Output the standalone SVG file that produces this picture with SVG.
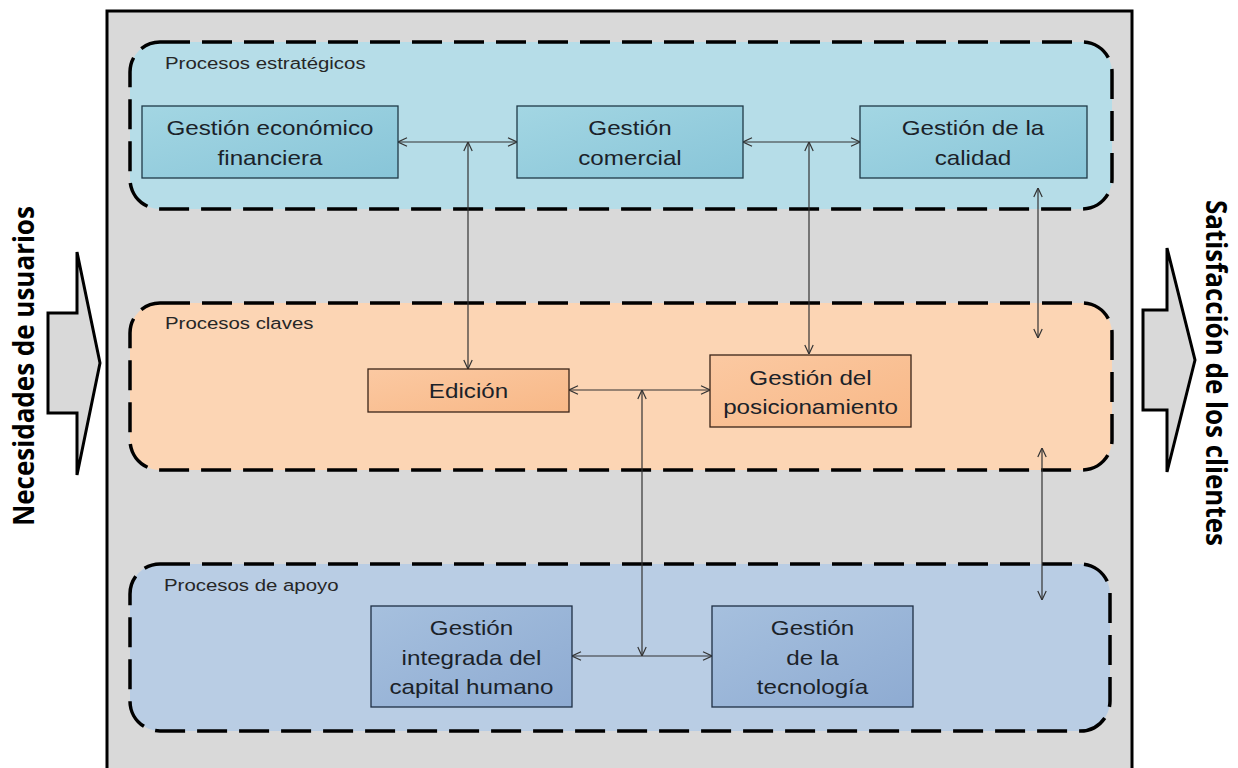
<svg xmlns="http://www.w3.org/2000/svg" width="1238" height="768" viewBox="0 0 1238 768">
<defs>
<linearGradient id="gBlue" x1="0" y1="0" x2="1" y2="1"><stop offset="0" stop-color="#a3d6e3"/><stop offset="1" stop-color="#88c5d8"/></linearGradient>
<linearGradient id="gOrange" x1="0" y1="0" x2="1" y2="1"><stop offset="0" stop-color="#fbc9a2"/><stop offset="1" stop-color="#f8b887"/></linearGradient>
<linearGradient id="gSteel" x1="0" y1="0" x2="1" y2="1"><stop offset="0" stop-color="#a6c0de"/><stop offset="1" stop-color="#8eabd2"/></linearGradient>
<marker id="ah" viewBox="0 0 10 10" refX="10" refY="5" markerWidth="10" markerHeight="10" markerUnits="userSpaceOnUse" orient="auto-start-reverse">
<path d="M1,0.8 L10,5 L1,9.2" fill="none" stroke="#333" stroke-width="1.2"/>
</marker>
<style>
.frame{fill:#d9d9d9;stroke:#000;stroke-width:3}
.grp{stroke:#000;stroke-width:3.5;stroke-dasharray:30 12}
.g1{fill:#b6dde8}
.g2{fill:#fcd5b4}
.g3{fill:#b9cde4}
.b1{fill:url(#gBlue);stroke:#1f3a48;stroke-width:1.3}
.b2{fill:url(#gOrange);stroke:#3a2418;stroke-width:1.3}
.b3{fill:url(#gSteel);stroke:#1e2e44;stroke-width:1.3}
.bt{font-family:"Liberation Sans",Arial,sans-serif;font-size:20.5px;fill:#1b2229;text-anchor:middle}
.lbl{font-family:"Liberation Sans",Arial,sans-serif;font-size:17px;fill:#262626}
.side{font-family:"Open Sans","DejaVu Sans",sans-serif;font-size:26px;font-weight:bold;fill:#000;text-anchor:middle}
.big{fill:#d9d9d9;stroke:#000;stroke-width:3;stroke-linejoin:miter}
.con{fill:none;stroke:#333;stroke-width:1.2;marker-start:url(#ah);marker-end:url(#ah)}
</style>
</defs>
<rect x="0" y="0" width="1238" height="768" fill="#fff"/>
<rect class="frame" x="107" y="11" width="1025" height="800"/>

<g id="side-left">
<polygon class="big" points="48,313 77,313 77,252 100,363 77,475 77,413 48,413"/>
<text class="side" transform="translate(34,366) rotate(-90) scale(1,1.12)">Necesidades de usuarios</text>
</g>
<g id="side-right">
<polygon class="big" points="1143,310 1167,310 1167,248 1195,360 1167,472 1167,410 1143,410"/>
<text class="side" transform="translate(1206,373) rotate(90) scale(1,1.12)">Satisfacción de los clientes</text>
</g>

<g id="procesos-estrategicos">
<rect class="grp g1" x="130" y="42" width="982" height="167" rx="30" ry="30"/>
<text class="lbl" transform="translate(165,69) scale(1.2,1)">Procesos estratégicos</text>
</g>
<g id="procesos-claves">
<rect class="grp g2" x="130" y="303" width="982" height="167" rx="30" ry="30"/>
<text class="lbl" transform="translate(165,329) scale(1.2,1)">Procesos claves</text>
</g>
<g id="procesos-apoyo">
<rect class="grp g3" x="130" y="564" width="980" height="167" rx="30" ry="30"/>
<text class="lbl" transform="translate(164,591) scale(1.2,1)">Procesos de apoyo</text>
</g>

<g id="connectors">
<path class="con" d="M398,142 H517"/>
<path class="con" d="M468,142 V369"/>
<path class="con" d="M743,142 H860"/>
<path class="con" d="M809,142 V354"/>
<path class="con" d="M1038,188 V338"/>
<path class="con" d="M1042,448 V600"/>
<path class="con" d="M569,390 H710"/>
<path class="con" d="M642,390 V656"/>
<path class="con" d="M572,656 H712"/>
</g>

<g id="gestion-economico-financiera">
<rect class="b1" x="142" y="106" width="256" height="72"/>
<text class="bt" transform="translate(270,135) scale(1.18,1)">Gestión económico</text>
<text class="bt" transform="translate(270,165) scale(1.18,1)">financiera</text>
</g>
<g id="gestion-comercial">
<rect class="b1" x="517" y="106" width="226" height="72"/>
<text class="bt" transform="translate(630,135) scale(1.18,1)">Gestión</text>
<text class="bt" transform="translate(630,165) scale(1.18,1)">comercial</text>
</g>
<g id="gestion-calidad">
<rect class="b1" x="860" y="106" width="227" height="72"/>
<text class="bt" transform="translate(973,135) scale(1.18,1)">Gestión de la</text>
<text class="bt" transform="translate(973,165) scale(1.18,1)">calidad</text>
</g>
<g id="edicion">
<rect class="b2" x="368" y="369" width="201" height="43"/>
<text class="bt" transform="translate(468.5,398) scale(1.18,1)">Edición</text>
</g>
<g id="gestion-posicionamiento">
<rect class="b2" x="710" y="355" width="201" height="72"/>
<text class="bt" transform="translate(810.5,385) scale(1.18,1)">Gestión del</text>
<text class="bt" transform="translate(810.5,414) scale(1.18,1)">posicionamiento</text>
</g>
<g id="gestion-capital-humano">
<rect class="b3" x="371" y="606" width="201" height="101"/>
<text class="bt" transform="translate(471.5,635) scale(1.18,1)">Gestión</text>
<text class="bt" transform="translate(471.5,665) scale(1.18,1)">integrada del</text>
<text class="bt" transform="translate(471.5,694) scale(1.18,1)">capital humano</text>
</g>
<g id="gestion-tecnologia">
<rect class="b3" x="712" y="606" width="201" height="101"/>
<text class="bt" transform="translate(812.5,635) scale(1.18,1)">Gestión</text>
<text class="bt" transform="translate(812.5,665) scale(1.18,1)">de la</text>
<text class="bt" transform="translate(812.5,694) scale(1.18,1)">tecnología</text>
</g>
</svg>
